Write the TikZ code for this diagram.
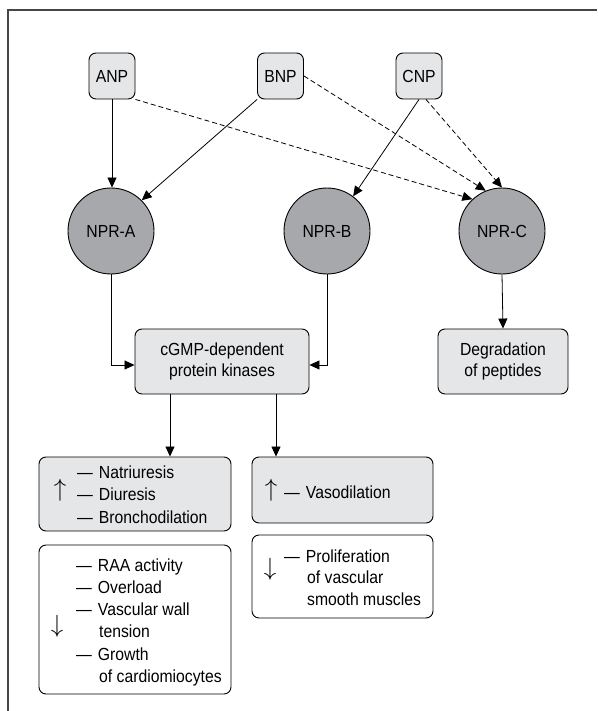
\documentclass[tikz,border=0pt]{standalone}
\usepackage{fontspec}
\setmainfont[FakeStretch=0.9]{Liberation Sans}
\usetikzlibrary{arrows.meta}
\definecolor{boxgray}{RGB}{229,230,231}
\definecolor{circgray}{RGB}{167,168,171}
\definecolor{framec}{RGB}{70,70,70}
\begin{document}
\begin{tikzpicture}[x=1pt,y=-1pt,
  every node/.style={font=\fontsize{17.5}{21.5}\selectfont, inner sep=0pt},
  box/.style={draw=black, line width=0.9pt, rounded corners=7pt, fill=boxgray, align=center},
  wbox/.style={draw=black, line width=0.9pt, rounded corners=7pt, fill=white},
  rec/.style={circle, draw=black, line width=0.9pt, fill=circgray, minimum size=86pt},
  arr/.style={line width=0.8pt, -{Triangle[length=10pt,width=9pt]}},
  darr/.style={arr, dash pattern=on 5pt off 3pt},
  txt/.style={anchor=base west},
  bigarrow/.style={font=\fontsize{29}{29}\selectfont}]
\useasboundingbox (0,0) rectangle (597,711);
% frame
\draw[framec, line width=1.2pt] (8,711) -- (8,10) -- (597,10);
% peptides
\node[box, minimum width=46pt, minimum height=46pt] (anp) at (112,76) {ANP};
\node[box, minimum width=46pt, minimum height=46pt] (bnp) at (280.5,76) {BNP};
\node[box, minimum width=46pt, minimum height=46pt] (cnp) at (419,76) {CNP};
% receptors
\node[rec] (npra) at (111,231) {NPR-A};
\node[rec] (nprb) at (327,231) {NPR-B};
\node[rec] (nprc) at (502,231) {NPR-C};
% middle boxes
\node[box, minimum width=174pt, minimum height=65pt] (cgmp) at (222,361.5) {cGMP-dependent\\protein kinases};
\node[box, minimum width=130pt, minimum height=65pt] (degr) at (503,361.5) {Degradation\\of peptides};
% effect boxes
\node[box, minimum width=192pt, minimum height=74pt] (up1) at (135,494) {};
\node[box, minimum width=181pt, minimum height=66pt] (up2) at (342.5,490) {};
\node[wbox, minimum width=192pt, minimum height=149pt] (dn1) at (135,619.5) {};
\node[wbox, minimum width=181pt, minimum height=83pt] (dn2) at (342.5,576.5) {};
% connectors
\draw[arr] (anp.south) -- (anp.south |- npra.north);
\draw[arr] (bnp.south west) -- (npra.45);
\draw[darr] (anp.south east) -- (nprc.133);
\draw[darr] (bnp.east) -- (nprc.112);
\draw[arr] (cnp.south) -- (nprb.53);
\draw[darr] ([xshift=7pt]cnp.south) -- (nprc.north);
\draw[arr] (npra.south) |- ([yshift=-3.5pt]cgmp.west);
\draw[arr] (nprb.south) |- ([yshift=-3.5pt]cgmp.east);
\draw[arr] (nprc.south) -- (degr.north);
\coordinate (k1) at (170,0);
\coordinate (k2) at (276,0);
\draw[arr] (cgmp.south -| k1) -- (up1.north -| k1);
\draw[arr] (cgmp.south -| k2) -- (up2.north -| k2);
% texts of box up1
\node[bigarrow] (a1) at (60,490) {$\uparrow$};
\node[txt] (t11) at (77,478) {—\hspace{6pt}Natriuresis};
\node[txt] (t12) at (77,500.5) {—\hspace{6pt}Diuresis};
\node[txt] (t13) at (77,523) {—\hspace{6pt}Bronchodilation};
% texts of box up2
\node[bigarrow] (a2) at (271,490) {$\uparrow$};
\node[txt] (t21) at (284,498) {—\hspace{6pt}Vasodilation};
% texts of box dn1
\node[bigarrow] (a3) at (57,626) {$\downarrow$};
\node[txt] (t31) at (76,571) {—\hspace{6pt}RAA activity};
\node[txt] (t32) at (76,593) {—\hspace{6pt}Overload};
\node[txt] (t33) at (76,615.5) {—\hspace{6pt}Vascular wall};
\node[txt] (t34) at (99,637.5) {tension};
\node[txt] (t35) at (76,660) {—\hspace{6pt}Growth};
\node[txt] (t36) at (99,682) {of cardiomiocytes};
% texts of box dn2
\node[bigarrow] (a4) at (270,569) {$\downarrow$};
\node[txt] (t41) at (284,562) {—\hspace{6pt}Proliferation};
\node[txt] (t42) at (307,583.5) {of vascular};
\node[txt] (t43) at (307,605) {smooth muscles};
\end{tikzpicture}
\end{document}
